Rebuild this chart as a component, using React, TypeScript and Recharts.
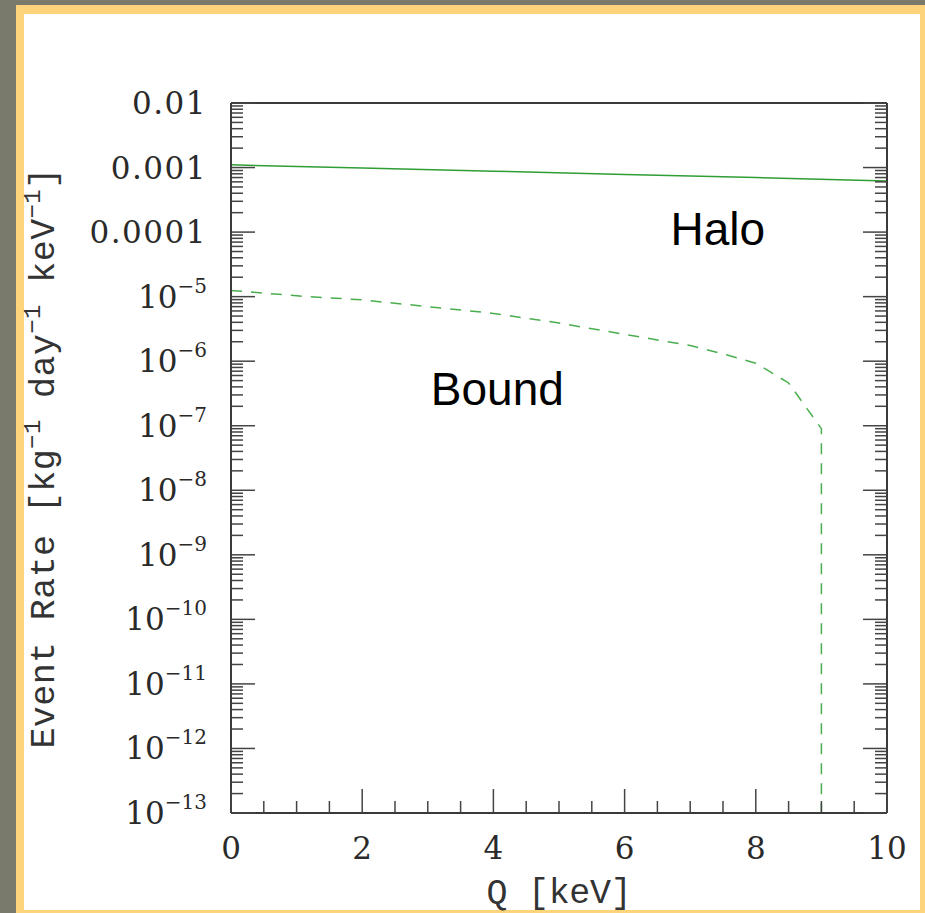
import React from 'react';
import { LineChart, Line, XAxis, YAxis, ReferenceDot } from 'recharts';

// Q [keV] vs event rate
const haloQ = [0, 2, 4, 6, 8, 10];
const haloRate = [1.1e-3, 9.8e-4, 8.8e-4, 7.8e-4, 7.0e-4, 6.2e-4];

const boundQ = [0, 1, 2, 3, 4, 5, 6, 7, 7.5, 8, 8.5, 9, 9];
const boundRate = [1.25e-5, 1.03e-5, 8.9e-6, 7.0e-6, 5.5e-6, 3.9e-6, 2.6e-6, 1.75e-6, 1.3e-6, 9.3e-7, 4.6e-7, 9e-8, 1e-13];

const xMajor = [0, 2, 4, 6, 8, 10];
const xMinor = [0.5, 1, 1.5, 2.5, 3, 3.5, 4.5, 5, 5.5, 6.5, 7, 7.5, 8.5, 9, 9.5];
const yExponents = [-13, -12, -11, -10, -9, -8, -7, -6, -5, -4, -3, -2];
const yPlainLabels: Record<number, string> = { [-2]: '0.01', [-3]: '0.001', [-4]: '0.0001' };

const haloData = haloQ.map((q, i) => ({ q, rate: haloRate[i] }));
const boundData = boundQ.map((q, i) => ({ q, rate: boundRate[i] }));

const yMajor = yExponents.map((e) => Math.pow(10, e));
const yMinor: number[] = [];
yExponents.slice(0, -1).forEach((e) => {
  for (let m = 2; m <= 9; m++) yMinor.push(m * Math.pow(10, e));
});
const xTicks = [...xMajor, ...xMinor].sort((a, b) => a - b);
const yTicks = [...yMajor, ...yMinor].sort((a, b) => a - b);

const AXIS = '#3a3a3a';
const TICK = '#444';
const NUM_FONT = '"DejaVu Serif", serif';
const TT_FONT = '"Liberation Mono", monospace';
const MAJOR = 24;
const MINOR = 12;

const isMajorY = (v: number) => Math.abs(Math.log10(v) - Math.round(Math.log10(v))) < 1e-6;
const isMajorX = (v: number) => xMajor.includes(v);

const BottomTick = (props: any) => {
  const { x, y, payload } = props;
  const major = isMajorX(payload.value);
  return (
    <g>
      <line x1={x} x2={x} y1={y} y2={y - (major ? MAJOR : MINOR)} stroke={TICK} strokeWidth={1.5} />
      {major && (
        <text x={x} y={y + 35} textAnchor="middle" dominantBaseline="central" fontFamily={NUM_FONT} fontSize={31} fill="#2a2a2a">
          {payload.value}
        </text>
      )}
    </g>
  );
};

const TopTick = (props: any) => {
  const { x, y, payload } = props;
  const major = isMajorX(payload.value);
  return <line x1={x} x2={x} y1={y} y2={y + (major ? MAJOR : MINOR)} stroke={TICK} strokeWidth={1.5} />;
};

const LeftTick = (props: any) => {
  const { x, y, payload } = props;
  const v = payload.value;
  const major = isMajorY(v);
  const e = Math.round(Math.log10(v));
  return (
    <g>
      <line x1={x} x2={x + (major ? MAJOR : MINOR)} y1={y} y2={y} stroke={TICK} strokeWidth={1.5} />
      {major && (
        <text x={x - 24} y={y} textAnchor="end" dominantBaseline="central" fontFamily={NUM_FONT} fontSize={31} fill="#2a2a2a" letterSpacing={yPlainLabels[e] ? 1.5 : 0}>
          {yPlainLabels[e] ? (
            yPlainLabels[e]
          ) : (
            <>
              10
              <tspan dy={-11} fontSize={20}>{'\u2212' + Math.abs(e)}</tspan>
            </>
          )}
        </text>
      )}
    </g>
  );
};

const RightTick = (props: any) => {
  const { x, y, payload } = props;
  const major = isMajorY(payload.value);
  return <line x1={x} x2={x - (major ? MAJOR : MINOR)} y1={y} y2={y} stroke={TICK} strokeWidth={1.5} />;
};

const YTitle = (props: any) => {
  const { viewBox } = props;
  const cx = 45;
  const cy = viewBox.y + viewBox.height / 2;
  const sup = (s: string) => (
    <tspan dy={-12} fontSize={24}>{s}</tspan>
  );
  return (
    <text
      x={cx}
      y={cy}
      transform={`rotate(-90, ${cx}, ${cy})`}
      textAnchor="middle"
      dominantBaseline="central"
      fontFamily={TT_FONT}
      fontSize={35}
      letterSpacing={0.4}
      fill="#333"
    >
      Event Rate [kg
      {sup('\u22121')}
      <tspan dy={12}>{' day'}</tspan>
      {sup('\u22121')}
      <tspan dy={12}>{' keV'}</tspan>
      {sup('\u22121')}
      <tspan dy={12}>]</tspan>
    </text>
  );
};

const XTitle = (props: any) => {
  const { viewBox } = props;
  return (
    <text
      x={viewBox.x + viewBox.width / 2}
      y={903}
      textAnchor="middle"
      fontFamily={TT_FONT}
      fontSize={35}
      letterSpacing={-0.3}
      fill="#333"
    >
      Q [keV]
    </text>
  );
};

const annotation = (label: string) => (p: any) => (
  <text x={p.cx} y={p.cy} textAnchor="middle" dominantBaseline="central" fontFamily='"Liberation Sans", Arial, sans-serif' fontSize={46} fill="#000">
    {label}
  </text>
);

export default function App() {
  return (
    <div style={{ position: 'fixed', left: 0, top: 0, width: 925, height: 913, background: '#7a7a6c', overflow: 'hidden' }}>
      <div
        style={{
          position: 'absolute',
          left: 16,
          top: 5,
          width: 912,
          height: 913,
          background: '#fff',
          borderStyle: 'solid',
          borderColor: '#fdd47b',
          borderWidth: '9px 8px 8px 8px',
          boxSizing: 'border-box',
        }}
      />
      <div style={{ position: 'absolute', left: 0, top: 0 }}>
        <LineChart width={925} height={913} margin={{ top: 102, right: 37, left: 24, bottom: 30 }}>
          <XAxis
            dataKey="q"
            type="number"
            domain={[0, 10]}
            ticks={xTicks}
            interval={0}
            allowDataOverflow
            height={70}
            tickSize={0}
            tickMargin={0}
            tickLine={false}
            axisLine={{ stroke: AXIS, strokeWidth: 2 }}
            tick={BottomTick}
            label={XTitle}
          />
          <XAxis
            xAxisId="top"
            orientation="top"
            type="number"
            domain={[0, 10]}
            ticks={xTicks}
            interval={0}
            allowDataOverflow
            height={1}
            tickSize={0}
            tickMargin={0}
            tickLine={false}
            axisLine={{ stroke: AXIS, strokeWidth: 2 }}
            tick={TopTick}
          />
          <YAxis
            dataKey="rate"
            type="number"
            scale="log"
            domain={[1e-13, 1e-2]}
            ticks={yTicks}
            interval={0}
            allowDataOverflow
            width={207}
            tickSize={0}
            tickMargin={0}
            tickLine={false}
            axisLine={{ stroke: AXIS, strokeWidth: 2 }}
            tick={LeftTick}
            label={YTitle}
          />
          <YAxis
            yAxisId="right"
            orientation="right"
            type="number"
            scale="log"
            domain={[1e-13, 1e-2]}
            ticks={yTicks}
            interval={0}
            allowDataOverflow
            width={1}
            tickSize={0}
            tickMargin={0}
            tickLine={false}
            axisLine={{ stroke: AXIS, strokeWidth: 2 }}
            tick={RightTick}
          />
          <Line
            data={haloData}
            dataKey="rate"
            type="linear"
            stroke="#2f9e35"
            strokeWidth={1.5}
            dot={false}
            isAnimationActive={false}
          />
          <Line
            data={boundData}
            dataKey="rate"
            type="linear"
            stroke="#4aae4f"
            strokeWidth={1.5}
            strokeDasharray="11 9"
            dot={false}
            isAnimationActive={false}
          />
          <ReferenceDot x={7.42} y={1.11e-4} r={0} shape={annotation('Halo')} />
          <ReferenceDot x={4.06} y={3.7e-7} r={0} shape={annotation('Bound')} />
        </LineChart>
      </div>
    </div>
  );
}
